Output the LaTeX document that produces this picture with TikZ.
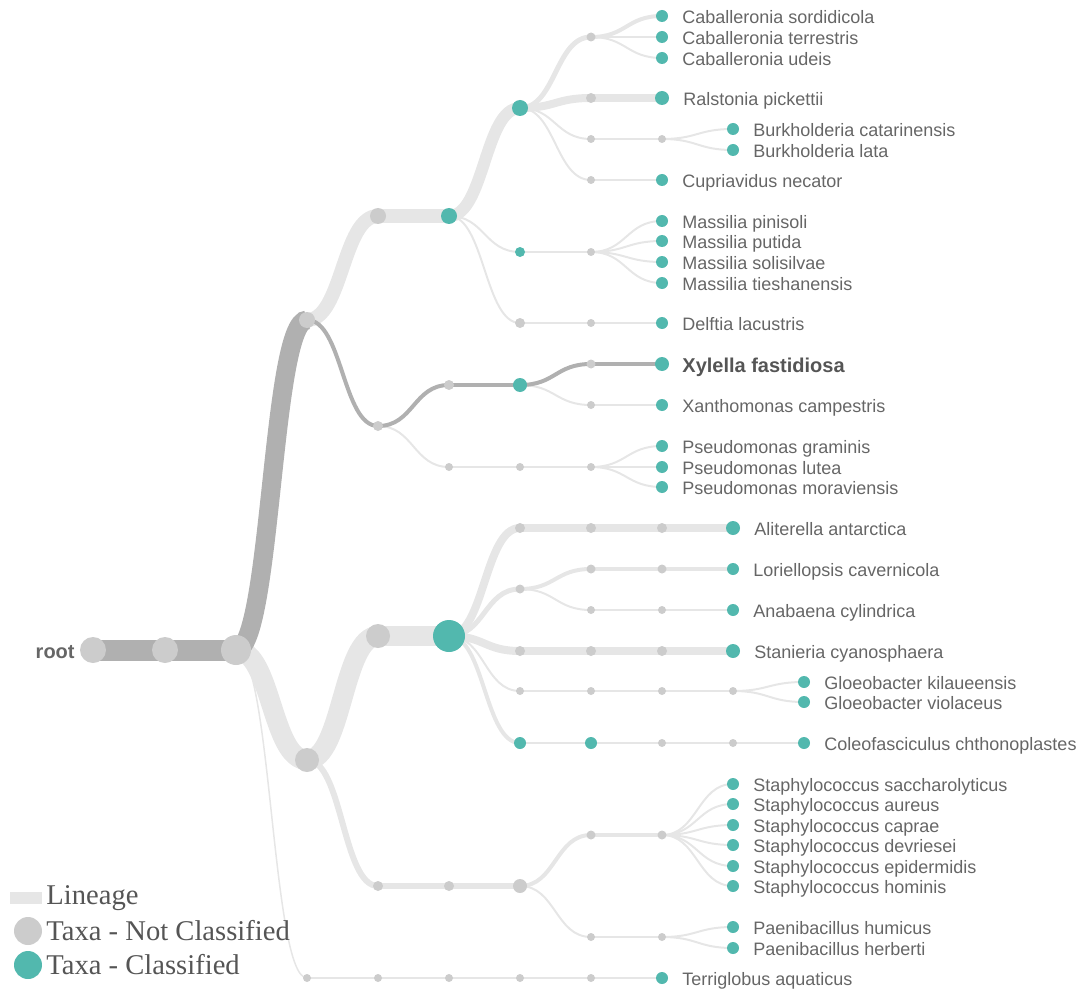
\documentclass[tikz,border=0pt]{standalone}
\usepackage{fontspec}
\setmainfont{Liberation Serif}
\setsansfont{Liberation Sans}
\usetikzlibrary{calc,positioning,backgrounds}
\definecolor{taxteal}{HTML}{52B8AE}
\definecolor{taxgray}{HTML}{CCCCCC}
\definecolor{linlight}{HTML}{E6E6E6}
\definecolor{lindark}{HTML}{B0B0B0}
\definecolor{txtgray}{HTML}{666666}
\definecolor{legtxt}{HTML}{555555}
\tikzset{
  nc/.style={circle, fill=taxgray, inner sep=0pt, minimum size=#1},
  cl/.style={circle, fill=taxteal, inner sep=0pt, minimum size=#1},
  tx/.style={font=\sffamily\fontsize{18}{21}\selectfont, text=txtgray, inner sep=0pt, text height=15pt, text depth=0pt},
  bx/.style={tx, font=\sffamily\bfseries\fontsize{20}{23}\selectfont, text height=16.5pt},
  leaf/.style={cl=12, label={[tx, label distance=14pt]0:#1}},
  legtx/.style={font=\rmfamily\fontsize{28.6}{32}\selectfont, text=legtxt, inner sep=0pt},
  lk/.style={draw=linlight, line width=#1},
  dk/.style={draw=lindark, line width=#1},
  curve/.style={to path={let \p1=(\tikztostart), \p2=(\tikztotarget) in
    .. controls ({(\x1+\x2)/2},\y1) and ({(\x1+\x2)/2},\y2) .. (\tikztotarget)}},
}
\begin{document}
\begin{tikzpicture}[x=1pt, y=-1pt]
  \useasboundingbox (0,0) rectangle (1083,992);

  % Root
  \node[nc=26, label={[bx, label distance=5pt]180:root}] (root) at (93,650) {};
  \node[nc=26] (r1) at (165,650) {};
  \node[nc=30] (r2) at (236,650) {};

  % Level 1
  \node[nc=16] (pa) at (307,320) {};
  \node[nc=24] (pb) at (307,760) {};
  \node[nc=8] (pc) at (307,978) {};

  % Level 2
  \node[nc=16] (qa) at (378,216) {};
  \node[nc=10] (qb) at (378,426) {};
  \node[nc=24] (qc) at (378,636) {};
  \node[nc=10] (qd) at (378,886) {};
  \node[nc=8] (qe) at (378,978) {};

  % Level 3
  \node[cl=16] (sa) at (449,216) {};
  \node[nc=10] (sb) at (449,385) {};
  \node[nc=8] (sc) at (449,467) {};
  \node[cl=32] (sd) at (449,636) {};
  \node[nc=10] (se) at (449,886) {};
  \node[nc=8] (sf) at (449,978) {};

  % Level 4
  \node[cl=16] (ta) at (520,108) {};
  \node[cl=10] (tb) at (520,252) {};
  \node[nc=10] (tc) at (520,323) {};
  \node[cl=14] (td) at (520,385) {};
  \node[nc=8] (te) at (520,467) {};
  \node[nc=10] (tf) at (520,528) {};
  \node[nc=9] (tg) at (520,589) {};
  \node[nc=10] (th) at (520,651) {};
  \node[nc=8] (ti) at (520,691) {};
  \node[cl=12] (tj) at (520,743) {};
  \node[nc=14] (tk) at (520,886) {};
  \node[nc=8] (tl) at (520,978) {};

  % Level 5
  \node[nc=9] (ua) at (591,37) {};
  \node[nc=10] (ub) at (591,98) {};
  \node[nc=8] (uc) at (591,139) {};
  \node[nc=8] (ud) at (591,180) {};
  \node[nc=8] (ue) at (591,252) {};
  \node[nc=8] (uf) at (591,323) {};
  \node[nc=9] (ug) at (591,364) {};
  \node[nc=8] (uh) at (591,405) {};
  \node[nc=8] (ui) at (591,467) {};
  \node[nc=10] (uj) at (591,528) {};
  \node[nc=9] (uk) at (591,569) {};
  \node[nc=8] (ul) at (591,610) {};
  \node[nc=10] (um) at (591,651) {};
  \node[nc=8] (un) at (591,691) {};
  \node[cl=12] (uo) at (591,743) {};
  \node[nc=9] (up) at (591,835) {};
  \node[nc=8] (uq) at (591,937) {};
  \node[nc=8] (ur) at (591,978) {};

  % Level 6
  \node[leaf=Caballeronia sordidicola] (cab1) at (662,16) {};
  \node[leaf=Caballeronia terrestris] (cab2) at (662,37) {};
  \node[leaf=Caballeronia udeis] (cab3) at (662,58) {};
  \node[leaf=Ralstonia pickettii, cl=14] (ral) at (662,98) {};
  \node[nc=8] (vc) at (662,139) {};
  \node[leaf=Cupriavidus necator] (cup) at (662,180) {};
  \node[leaf=Massilia pinisoli] (mas1) at (662,221) {};
  \node[leaf=Massilia putida] (mas2) at (662,241) {};
  \node[leaf=Massilia solisilvae] (mas3) at (662,262) {};
  \node[leaf=Massilia tieshanensis] (mas4) at (662,283) {};
  \node[leaf=Delftia lacustris] (del) at (662,323) {};
  \node[cl=14, label={[bx, text=legtxt, label distance=13pt]0:Xylella fastidiosa}] (xyl) at (662,364) {};
  \node[leaf=Xanthomonas campestris] (xan) at (662,405) {};
  \node[leaf=Pseudomonas graminis] (ps1) at (662,446) {};
  \node[leaf=Pseudomonas lutea] (ps2) at (662,467) {};
  \node[leaf=Pseudomonas moraviensis] (ps3) at (662,487) {};
  \node[nc=10] (vj) at (662,528) {};
  \node[nc=9] (vk) at (662,569) {};
  \node[nc=8] (vl) at (662,610) {};
  \node[nc=10] (vm) at (662,651) {};
  \node[nc=8] (vn) at (662,691) {};
  \node[nc=8] (vo) at (662,743) {};
  \node[nc=9] (vp) at (662,835) {};
  \node[nc=8] (vq) at (662,937) {};
  \node[leaf=Terriglobus aquaticus] (ter) at (662,978) {};

  % Level 7
  \node[leaf=Burkholderia catarinensis] (bur1) at (733,129) {};
  \node[leaf=Burkholderia lata] (bur2) at (733,150) {};
  \node[leaf=Aliterella antarctica, cl=14] (ali) at (733,528) {};
  \node[leaf=Loriellopsis cavernicola] (lor) at (733,569) {};
  \node[leaf=Anabaena cylindrica] (ana) at (733,610) {};
  \node[leaf=Stanieria cyanosphaera, cl=14] (sta) at (733,651) {};
  \node[nc=8] (wn) at (733,691) {};
  \node[nc=8] (wo) at (733,743) {};
  \node[leaf=Staphylococcus saccharolyticus] (stp1) at (733,784) {};
  \node[leaf=Staphylococcus aureus] (stp2) at (733,804) {};
  \node[leaf=Staphylococcus caprae] (stp3) at (733,825) {};
  \node[leaf=Staphylococcus devriesei] (stp4) at (733,845) {};
  \node[leaf=Staphylococcus epidermidis] (stp5) at (733,866) {};
  \node[leaf=Staphylococcus hominis] (stp6) at (733,886) {};
  \node[leaf=Paenibacillus humicus] (pae1) at (733,927) {};
  \node[leaf=Paenibacillus herberti] (pae2) at (733,948) {};

  % Level 8
  \node[leaf=Gloeobacter kilaueensis] (glo1) at (804,682) {};
  \node[leaf=Gloeobacter violaceus] (glo2) at (804,702) {};
  \node[leaf=Coleofasciculus chthonoplastes] (col) at (804,743) {};

  % Lineage links
  \begin{scope}[on background layer]
    \foreach \s/\t/\w in {r2/pb/20, r2/pc/1.5, pa/qa/14, qa/sa/14, sa/ta/12, sa/tb/2, sa/tc/2,
        ta/ua/5, ua/cab1/4, ua/cab2/2, ua/cab3/2, ta/ub/8, ub/ral/8, ta/uc/2, uc/vc/2,
        vc/bur1/2, vc/bur2/2, ta/ud/2, ud/cup/2, tb/ue/2, ue/mas1/2, ue/mas2/2, ue/mas3/2,
        ue/mas4/2, tc/uf/2, uf/del/2, td/uh/2, uh/xan/2, qb/sc/2, sc/te/2, te/ui/2,
        ui/ps1/2, ui/ps2/2, ui/ps3/2, pb/qc/20, qc/sd/20, sd/tf/8, tf/uj/8, uj/vj/8,
        vj/ali/8, sd/tg/5, tg/uk/4, uk/vk/4, vk/lor/4, tg/ul/2, ul/vl/2, vl/ana/2,
        sd/th/8, th/um/8, um/vm/8, vm/sta/8, sd/ti/2, ti/un/2, un/vn/2, vn/wn/2,
        wn/glo1/2, wn/glo2/2, sd/tj/4, tj/uo/2.5, uo/vo/2.5, vo/wo/2.5, wo/col/2.5,
        pb/qd/6, qd/se/6, se/tk/6, tk/up/4, up/vp/4, vp/stp1/2, vp/stp2/2, vp/stp3/2,
        vp/stp4/2, vp/stp5/2, vp/stp6/2, tk/uq/2, uq/vq/2, vq/pae1/2, vq/pae2/2,
        pc/qe/2, qe/sf/2, sf/tl/2, tl/ur/2, ur/ter/2}
      \draw[lk=\w] (\s.center) to[curve] (\t.center);
    \foreach \s/\t/\w in {root/r1/21, r1/r2/21, r2/pa/19, pa/qb/4, qb/sb/4, sb/td/4,
        td/ug/4, ug/xyl/4}
      \draw[dk=\w] (\s.center) to[curve] (\t.center);
  \end{scope}

  % Legend
  \node[fill=linlight, inner sep=0pt, minimum width=32, minimum height=12] (lglin) at (26,898) {};
  \node[legtx, right=4pt of lglin] {Lineage};
  \node[nc=28] (lgnc) at (28,931) {};
  \node[legtx, right=4pt of lgnc] {Taxa - Not Classified};
  \node[cl=28] (lgcl) at (28,965) {};
  \node[legtx, right=4pt of lgcl] {Taxa - Classified};
\end{tikzpicture}
\end{document}
